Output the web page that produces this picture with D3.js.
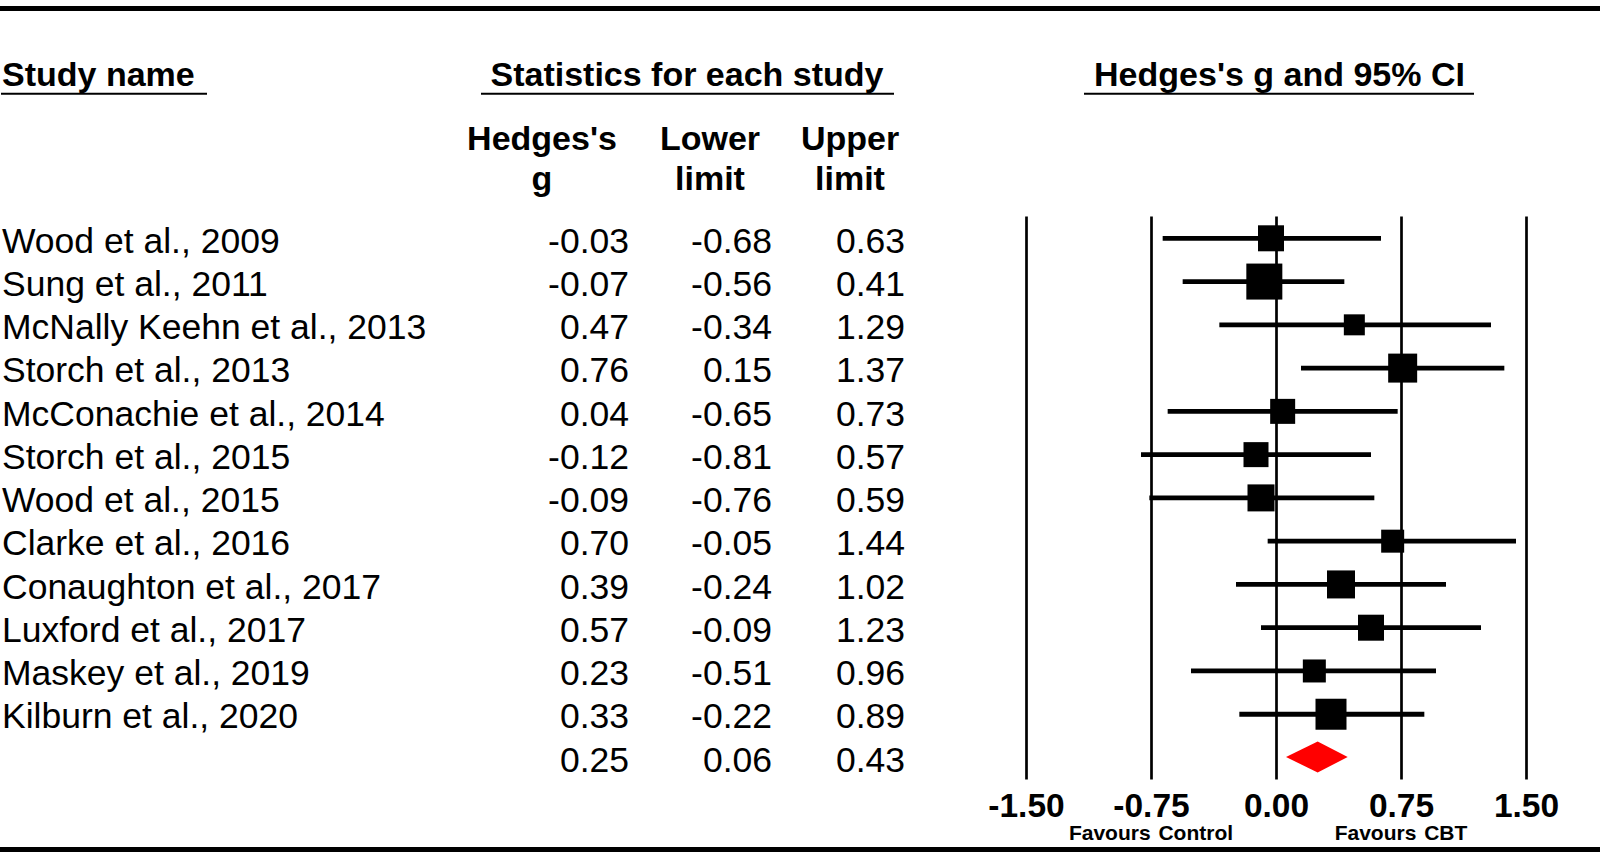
<!DOCTYPE html>
<html>
<head>
<meta charset="utf-8">
<script src="https://cdn.jsdelivr.net/npm/d3@7"></script>
<style>
  html, body { margin: 0; padding: 0; background: #fff; }
  svg { display: block; font-family: "Liberation Sans", Arial, sans-serif; }
</style>
</head>
<body>
<svg id="chart" width="1600" height="852"></svg>
<script>
// ---- Data ----
const studies = [
  "Wood et al., 2009",
  "Sung et al., 2011",
  "McNally Keehn et al., 2013",
  "Storch et al., 2013",
  "McConachie et al., 2014",
  "Storch et al., 2015",
  "Wood et al., 2015",
  "Clarke et al., 2016",
  "Conaughton et al., 2017",
  "Luxford et al., 2017",
  "Maskey et al., 2019",
  "Kilburn et al., 2020"
];
const hedgesG   = [-0.03, -0.07, 0.47, 0.76, 0.04, -0.12, -0.09, 0.70, 0.39, 0.57, 0.23, 0.33];
const lowerLim  = [-0.68, -0.56, -0.34, 0.15, -0.65, -0.81, -0.76, -0.05, -0.24, -0.09, -0.51, -0.22];
const upperLim  = [0.63, 0.41, 1.29, 1.37, 0.73, 0.57, 0.59, 1.44, 1.02, 1.23, 0.96, 0.89];
// relative weights (%)
const weights   = [7.76, 14.88, 5.06, 9.65, 7.17, 7.17, 8.37, 6.07, 9.00, 7.76, 6.07, 11.03];
const summary   = { g: 0.25, lower: 0.06, upper: 0.43 };
const tickValues = [-1.50, -0.75, 0.00, 0.75, 1.50];
const favourLabels = [
  { text: "Favours Control", at: -0.75 },
  { text: "Favours CBT", at: 0.75 }
];

// ---- Layout ----
const W = 1600, H = 852;
const svg = d3.select("#chart");
const fmt = d3.formatLocale({ decimal: ".", thousands: ",", grouping: [3], currency: ["", ""], minus: "-" }).format(".2f");

const x = d3.scaleLinear().domain([-1.5, 1.5]).range([1026, 1526]);
const nRows = studies.length + 1;
const y = d3.scaleLinear().domain([0, nRows - 1]).range([238.3, 757.5]);
const size = d3.scaleSqrt().domain([0, d3.max(weights)]).range([0, 36]);

const gridTop = 216.5, gridBottom = 779.5;
const bodyFont = 35.5, headFont = 34;
const baseOff = 14.2;

// top and bottom rules
svg.append("rect").attr("x", 0).attr("y", 6).attr("width", W).attr("height", 5).attr("fill", "#000");
svg.append("rect").attr("x", 0).attr("y", 847).attr("width", W).attr("height", 5).attr("fill", "#000");

// Section headers
function header(text, xPos, anchor, ux1, ux2) {
  svg.append("text").attr("x", xPos).attr("y", 86).attr("text-anchor", anchor)
    .attr("font-size", headFont).attr("font-weight", "bold").attr("fill", "#000").text(text);
  svg.append("line").attr("x1", ux1).attr("x2", ux2).attr("y1", 93.7).attr("y2", 93.7)
    .attr("stroke", "#000").attr("stroke-width", 2);
}
header("Study name", 2, "start", 1, 207);
header("Statistics for each study", 687, "middle", 481, 894);
header("Hedges's g and 95% CI", 1279.5, "middle", 1084, 1474);

// Column headers
const colCenters = [542, 710, 850];
const colRights = [629, 772, 905];
const colHead = [["Hedges's", "g"], ["Lower", "limit"], ["Upper", "limit"]];
colHead.forEach((lines, i) => {
  lines.forEach((t, j) => {
    svg.append("text").attr("x", colCenters[i]).attr("y", 149.5 + j * 40.5)
      .attr("text-anchor", "middle").attr("font-size", headFont).attr("font-weight", "bold")
      .attr("fill", "#000").text(t);
  });
});

// Study rows text
const rows = studies.map((s, i) => ({ name: s, g: hedgesG[i], lo: lowerLim[i], hi: upperLim[i], w: weights[i], i }));

svg.append("g").selectAll("text").data(rows).join("text")
  .attr("x", 2).attr("y", d => y(d.i) + baseOff)
  .attr("font-size", bodyFont).attr("fill", "#000").text(d => d.name);

const numRows = rows.map(d => ({ vals: [d.g, d.lo, d.hi], i: d.i }))
  .concat([{ vals: [summary.g, summary.lower, summary.upper], i: studies.length }]);
numRows.forEach(r => {
  r.vals.forEach((v, k) => {
    svg.append("text").attr("x", colRights[k]).attr("y", y(r.i) + baseOff)
      .attr("text-anchor", "end").attr("font-size", bodyFont).attr("fill", "#000").text(fmt(v));
  });
});

// Axis with gridlines
const axis = d3.axisBottom(x).tickValues(tickValues).tickFormat(fmt)
  .tickSizeInner(-(gridBottom - gridTop)).tickSizeOuter(0);
const ax = svg.append("g").attr("transform", `translate(0,${gridBottom})`).call(axis);
ax.select(".domain").remove();
ax.selectAll(".tick line").attr("stroke", "#000").attr("stroke-width", 2.7);
ax.selectAll(".tick text").attr("y", 37.7).attr("dy", null)
  .attr("font-size", 33.5).attr("font-weight", "bold").attr("fill", "#000")
  .attr("font-family", "'Liberation Sans', Arial, sans-serif");

// Favours labels
svg.append("g").selectAll("text").data(favourLabels).join("text")
  .attr("x", d => x(d.at)).attr("y", 840).attr("text-anchor", "middle")
  .attr("font-size", 21).attr("font-weight", "bold").attr("fill", "#000")
  .attr("word-spacing", 2)
  .text(d => d.text);

// CI lines
svg.append("g").selectAll("line").data(rows).join("line")
  .attr("x1", d => x(d.lo)).attr("x2", d => x(d.hi))
  .attr("y1", d => y(d.i)).attr("y2", d => y(d.i))
  .attr("stroke", "#000").attr("stroke-width", 4.8);

// Squares
svg.append("g").selectAll("rect").data(rows).join("rect")
  .attr("x", d => x(d.g) - size(d.w) / 2).attr("y", d => y(d.i) - size(d.w) / 2)
  .attr("width", d => size(d.w)).attr("height", d => size(d.w)).attr("fill", "#000");

// Summary diamond
const sy = y(studies.length) - 0.5, hh = 15.5;
svg.append("path")
  .attr("d", `M${x(summary.lower)},${sy} L${x(summary.g)},${sy - hh} L${x(summary.upper)},${sy} L${x(summary.g)},${sy + hh} Z`)
  .attr("fill", "#ff0000");
</script>
</body>
</html>
